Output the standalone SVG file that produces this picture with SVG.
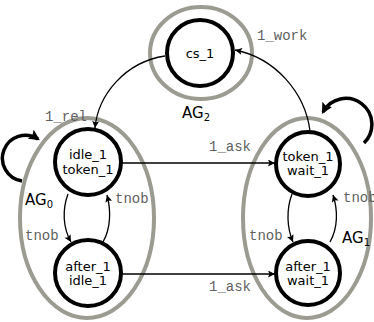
<svg xmlns="http://www.w3.org/2000/svg" width="374" height="322" viewBox="0 0 374 322">
<style>
.grp{fill:none;stroke:#9b9b91;stroke-width:4}
.st{fill:#fff;stroke:#000;stroke-width:4}
.nl{font-family:"DejaVu Sans",sans-serif;font-size:13px;fill:#000;text-anchor:middle}
.ag{font-family:"DejaVu Sans",sans-serif;font-size:15px;fill:#000}
.sub{font-size:10px}
.el{font-family:"Liberation Mono","Courier New",monospace;font-size:14px;fill:#5f5f5f}
.e{fill:none;stroke:#000;stroke-width:1.3;marker-end:url(#ah)}
.loop{fill:none;stroke:#000;stroke-width:3.5;marker-end:url(#ahb)}
</style>
<defs>
<marker id="ah" viewBox="0 0 10 10" refX="10" refY="5" markerUnits="userSpaceOnUse" markerWidth="9" markerHeight="7" orient="auto"><path d="M0,0 L10,5 L0,10 L2,5 z" fill="#000"/></marker>
<marker id="ahb" viewBox="0 0 10 10" refX="8" refY="5" markerUnits="userSpaceOnUse" markerWidth="11" markerHeight="11" orient="auto"><path d="M0,0 L10,5 L0,10 L2,5 z" fill="#000"/></marker>
</defs>
<g id="groups">
<ellipse id="AG2" class="grp" cx="201" cy="53" rx="51" ry="46"/>
<ellipse id="AG0" class="grp" cx="87" cy="218" rx="67" ry="100"/>
<ellipse id="AG1" class="grp" cx="307" cy="218" rx="64" ry="100"/>
</g>
<g id="connectors">
<path class="loop" d="M22,181 A23,23 0 1 1 38,139"/>
<path class="loop" d="M364,143 A26,26 0 1 0 323,112"/>
<path class="e" d="M165,56 C125,62 98,95 95,128"/>
<path class="e" d="M310,131 C305,92 275,58 235,50"/>
<path class="e" d="M121,163 L275,163"/>
<path class="e" d="M121,274 L275,274"/>
<path class="e" d="M68,194 C62,210 63,228 71,242"/>
<path class="e" d="M103,242 C111,228 111,210 107,195"/>
<path class="e" d="M292,194 C286,210 287,228 293,242"/>
<path class="e" d="M330,242 C338,228 338,210 333,195"/>
</g>
<g id="cs_1"><circle class="st" cx="200" cy="53" r="33"/><text class="nl" x="200" y="58">cs_1</text></g>
<g id="idle_token"><circle class="st" cx="88" cy="162" r="33"/><text class="nl" x="88" y="159">idle_1</text><text class="nl" x="88" y="174">token_1</text></g>
<g id="token_wait"><circle class="st" cx="308" cy="164" r="32"/><text class="nl" x="308" y="161">token_1</text><text class="nl" x="308" y="175">wait_1</text></g>
<g id="after_idle"><circle class="st" cx="88" cy="273" r="33"/><text class="nl" x="88" y="271">after_1</text><text class="nl" x="88" y="285">idle_1</text></g>
<g id="after_wait"><circle class="st" cx="308" cy="273" r="32"/><text class="nl" x="308" y="271">after_1</text><text class="nl" x="308" y="285">wait_1</text></g>
<g id="labels">
<text class="ag" x="182" y="118">AG<tspan class="sub" dy="3">2</tspan></text>
<text class="ag" x="25" y="205">AG<tspan class="sub" dy="3">0</tspan></text>
<text class="ag" x="342" y="243">AG<tspan class="sub" dy="3">1</tspan></text>
<text class="el" x="45" y="121">1_rel</text>
<text class="el" x="257" y="40">1_work</text>
<text class="el" x="209" y="151">1_ask</text>
<text class="el" x="209" y="291">1_ask</text>
<text class="el" x="25" y="240">tnob</text>
<text class="el" x="115" y="203">tnob</text>
<text class="el" x="249" y="240">tnob</text>
<text class="el" x="343" y="202">tnob</text>
</g>
</svg>
